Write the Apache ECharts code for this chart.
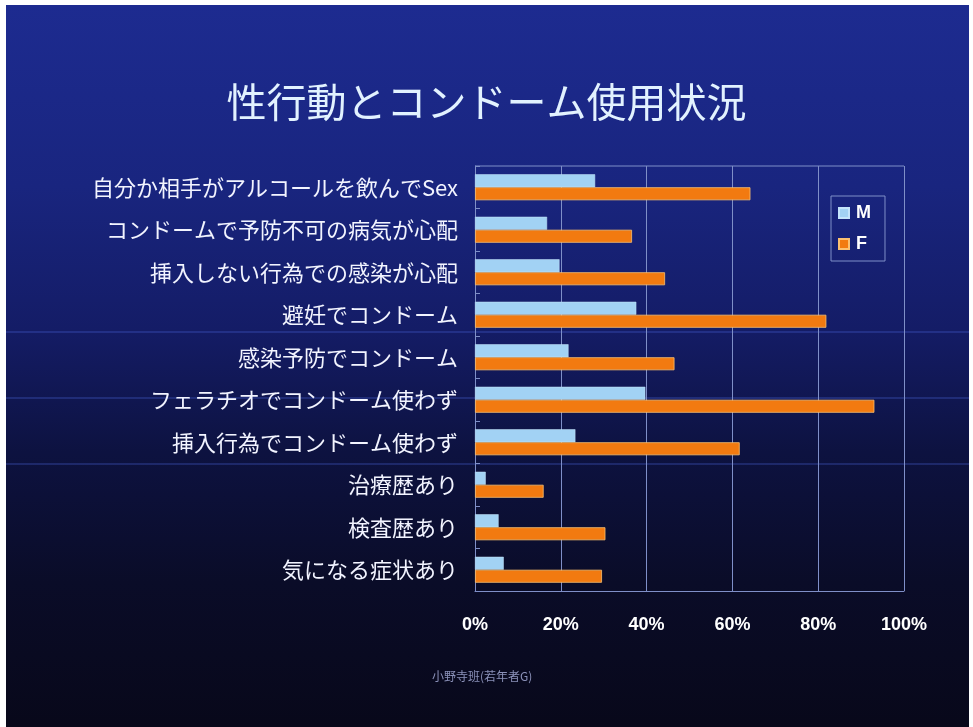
<!DOCTYPE html>
<html>
<head>
<meta charset="utf-8">
<script src="https://cdn.jsdelivr.net/npm/echarts@6/dist/echarts.min.js"></script>
<style>
  html, body { margin: 0; padding: 0; background: #ffffff; }
  #chart { width: 973px; height: 727px; }
</style>
</head>
<body>
<div id="chart"></div>
<script>
// Survey items (top to bottom)
const categories = [
  '自分か相手がアルコールを飲んでSex',
  'コンドームで予防不可の病気が心配',
  '挿入しない行為での感染が心配',
  '避妊でコンドーム',
  '感染予防でコンドーム',
  'フェラチオでコンドーム使わず',
  '挿入行為でコンドーム使わず',
  '治療歴あり',
  '検査歴あり',
  '気になる症状あり'
];
// Share of respondents (%)
const maleValues   = [28.0, 16.8, 19.7, 37.6, 21.8, 39.7, 23.4, 2.5, 5.5, 6.7];
const femaleValues = [64.2, 36.6, 44.3, 81.9, 46.5, 93.1, 61.7, 16.0, 30.4, 29.6];
const seriesNames = ['M', 'F'];
const xTicks = [0, 20, 40, 60, 80, 100];

const chart = echarts.init(document.getElementById('chart'), null, { renderer: 'canvas' });

const jpFont = '"Noto Sans CJK JP", "Noto Sans", sans-serif';
const gridColor = '#7f8fc8';
const bandLine = 'rgba(80,110,230,0.35)';

const option = {
  backgroundColor: '#ffffff',
  animation: false,
  graphic: [
    {
      type: 'rect', silent: true, z: -10,
      shape: { x: 6, y: 5, width: 963, height: 722 },
      style: {
        fill: new echarts.graphic.LinearGradient(0, 0, 0, 1, [
          { offset: 0.00, color: '#1d2b90' },
          { offset: 0.25, color: '#19257f' },
          { offset: 0.45, color: '#141c66' },
          { offset: 0.62, color: '#0d1240' },
          { offset: 0.80, color: '#0a0c28' },
          { offset: 1.00, color: '#08081a' }
        ])
      }
    },
    { type: 'line', silent: true, z: -9, shape: { x1: 6, y1: 332, x2: 969, y2: 332 }, style: { stroke: bandLine, lineWidth: 1.5 } },
    { type: 'line', silent: true, z: -9, shape: { x1: 6, y1: 398, x2: 969, y2: 398 }, style: { stroke: bandLine, lineWidth: 1.5 } },
    { type: 'line', silent: true, z: -9, shape: { x1: 6, y1: 464, x2: 969, y2: 464 }, style: { stroke: bandLine, lineWidth: 1.5 } },
    {
      type: 'text', silent: true,
      x: 432, y: 670,
      style: { text: '小野寺班(若年者G)', fill: '#8a90b8', font: '12px ' + jpFont }
    },
    // top border of the plot area
    { type: 'line', silent: true, z: 5, shape: { x1: 475, y1: 166, x2: 904, y2: 166 }, style: { stroke: gridColor, lineWidth: 1 } }
  ],
  title: {
    text: '性行動とコンドーム使用状況',
    left: 'center',
    top: 77,
    textStyle: { color: '#e2f2ff', fontSize: 40, fontWeight: 'normal', fontFamily: jpFont }
  },
  legend: {
    data: seriesNames,
    orient: 'vertical',
    left: 831,
    top: 196,
    padding: [8, 14, 8, 7],
    itemGap: 13,
    itemWidth: 10,
    itemHeight: 10,
    icon: 'rect',
    borderColor: gridColor,
    borderWidth: 1,
    textStyle: { color: '#ffffff', fontSize: 18, fontWeight: 'bold', fontFamily: '"Liberation Sans", Arial, sans-serif', padding: [0, 0, 0, 2] }
  },
  grid: { left: 475, right: 69, top: 166, bottom: 136, containLabel: false, show: false },
  xAxis: {
    type: 'value',
    min: 0, max: 100, interval: 20,
    axisLine: { show: true, lineStyle: { color: gridColor, width: 1 } },
    axisTick: { show: false },
    splitLine: { show: true, lineStyle: { color: gridColor, width: 1 } },
    axisLabel: {
      margin: 25,
      color: '#ffffff', fontSize: 18, fontWeight: 'bold',
      fontFamily: '"Liberation Sans", Arial, sans-serif',
      formatter: function (v) { return xTicks.indexOf(v) >= 0 ? v + '%' : ''; }
    }
  },
  yAxis: {
    type: 'category',
    data: categories,
    inverse: true,
    axisLine: { show: true, lineStyle: { color: gridColor, width: 1 } },
    axisTick: { show: true, inside: true, length: 5, lineStyle: { color: gridColor } },
    axisLabel: { margin: 17, color: '#f2f4ff', fontSize: 22, fontFamily: jpFont }
  },
  series: [
    {
      name: seriesNames[0], type: 'bar', data: maleValues,
      barWidth: 13, barGap: '0%',
      itemStyle: { color: '#a2d2f4', borderColor: '#c4e4fb', borderWidth: 0.5 }
    },
    {
      name: seriesNames[1], type: 'bar', data: femaleValues,
      barWidth: 13, barGap: '0%',
      itemStyle: { color: '#f27a10', borderColor: '#fbc070', borderWidth: 0.8 }
    }
  ]
};

chart.setOption(option);
</script>
</body>
</html>
